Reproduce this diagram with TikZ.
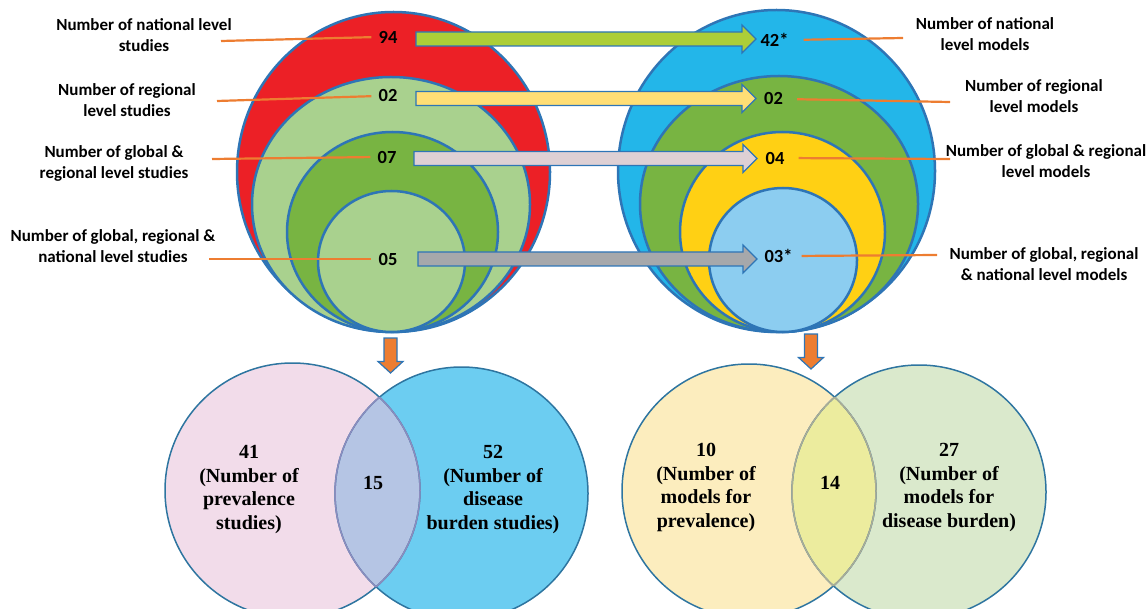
\documentclass[tikz,border=0pt]{standalone}
\usepackage{fontspec}
\setmainfont{Carlito}
\newfontfamily\tnr{Liberation Serif}
\usetikzlibrary{calc}
\definecolor{bord}{RGB}{46,117,182}
\definecolor{orng}{RGB}{237,125,49}
\definecolor{cred}{RGB}{236,32,38}
\definecolor{lgrn}{RGB}{169,209,142}
\definecolor{dgrn}{RGB}{120,180,66}
\definecolor{cblu}{RGB}{35,182,233}
\definecolor{cyel}{RGB}{255,208,20}
\definecolor{lblu}{RGB}{140,205,240}
\definecolor{aone}{RGB}{172,206,56}
\definecolor{atwo}{RGB}{255,222,117}
\definecolor{athr}{RGB}{222,208,212}
\definecolor{afou}{RGB}{166,168,171}
\definecolor{vbord}{RGB}{46,117,160}
\definecolor{vpink}{RGB}{242,220,234}
\definecolor{vblue}{RGB}{108,205,241}
\definecolor{vlap}{RGB}{181,197,228}
\definecolor{vyel}{RGB}{252,237,190}
\definecolor{vgrn}{RGB}{218,233,204}
\definecolor{vlapb}{RGB}{236,236,158}
\definecolor{vinA}{RGB}{140,140,190}
\definecolor{vinB}{RGB}{170,172,150}
\newcommand\hblock[3]{\draw[barrow,fill=#1] ($(#2)+(0,-7)$) -- ($(#3)+(-14,-7)$) -- ($(#3)+(-14,-14)$) -- (#3) -- ($(#3)+(-14,14)$) -- ($(#3)+(-14,7)$) -- ($(#2)+(0,7)$) -- cycle;}
\newcommand\vblock[2]{\draw[barrow,fill=orng] ($(#1)+(-6.5,0)$) -- ($(#2)+(-6.5,-11.5)$) -- ($(#2)+(-12.5,-11.5)$) -- (#2) -- ($(#2)+(12.5,-11.5)$) -- ($(#2)+(6.5,-11.5)$) -- ($(#1)+(6.5,0)$) -- cycle;}
\begin{document}
\begin{tikzpicture}[x=1pt,y=-1pt,
  ring/.style={draw=bord, line width=2.5pt},
  lead/.style={draw=orng, line width=2.2pt},
  lbl/.style={font=\fontsize{17}{21}\selectfont\bfseries, align=center, inner sep=0pt},
  num/.style={font=\fontsize{18.5}{20}\selectfont\bfseries, inner sep=1pt},
  venn/.style={draw=vbord, line width=1.5pt},
  vtxt/.style={font=\tnr\fontsize{20}{23.5}\selectfont\bfseries, align=center, inner sep=0pt},
  barrow/.style={draw=bord, line width=1.2pt, line join=miter},
]
\useasboundingbox (0,0) rectangle (1147,609);

% ---------- left nested circles ----------
\draw[ring, fill=cred] (393.5,172) ellipse [x radius=156.5, y radius=160];
\draw[ring, fill=lgrn] (391,204.5) ellipse [x radius=139, y radius=127.5];
\draw[ring, fill=dgrn] (392.5,232) ellipse [x radius=105.5, y radius=100];
\draw[ring, fill=lgrn] (391.5,261.5) ellipse [x radius=73.5, y radius=70.5];

% ---------- right nested circles ----------
\draw[ring, fill=cblu] (776.5,171) ellipse [x radius=158.5, y radius=161];
\draw[ring, fill=dgrn] (779,204) ellipse [x radius=139, y radius=128];
\draw[ring, fill=cyel] (782.5,232) ellipse [x radius=102.5, y radius=100];
\draw[ring, fill=lblu] (783,260) ellipse [x radius=74, y radius=72];

% ---------- block arrows ----------
\coordinate (A1s) at (416,39);  \coordinate (A1e) at (756,39);
\coordinate (A2s) at (416,98.5); \coordinate (A2e) at (756,98.5);
\coordinate (A3s) at (414,158.5); \coordinate (A3e) at (757,158.5);
\coordinate (A4s) at (418,259); \coordinate (A4e) at (757,259);
\hblock{aone}{A1s}{A1e}
\hblock{atwo}{A2s}{A2e}
\hblock{athr}{A3s}{A3e}
\hblock{afou}{A4s}{A4e}

% ---------- numbers ----------
\node[num] (l94) at (388,37) {94};
\node[num] (l02) at (388,96) {02};
\node[num] (l07) at (387,157) {07};
\node[num] (l05) at (388,259) {05};
\node[num] (r42) at (774.5,40) {42*};
\node[num] (r02) at (773.5,99) {02};
\node[num] (r04) at (775,158) {04};
\node[num] (r03) at (778.5,256) {03*};

% ---------- labels ----------
\node[lbl] (t1) at (144,35.5) {Number of national level\\studies};
\node[lbl] (t2) at (127,100) {Number of regional\\level studies};
\node[lbl] (t3) at (114,163) {Number of global \&\\regional level studies};
\node[lbl] (t4) at (113,246.5) {Number of global, regional \&\\national level studies};
\node[lbl] (u1) at (985,34.5) {Number of national\\level models};
\node[lbl] (u2) at (1034,96) {Number of regional\\level models};
\node[lbl] (u3) at (1046,161) {Number of global \& regional\\level models};
\node[lbl] (u4) at (1044,264.5) {Number of global, regional\\\& national level models};

% ---------- leader lines ----------
\coordinate (s1) at (221,41);  \coordinate (s2) at (217,101);
\coordinate (s3) at (212,159); \coordinate (s4) at (209,259);
\draw[lead, shorten >=6pt] (s1) -- (l94.west);
\draw[lead, shorten >=6pt] (s2) -- (l02.west);
\draw[lead, shorten >=6pt] (s3) -- (l07.west);
\draw[lead, shorten >=6pt] (s4) -- (l05.west);
\coordinate (e1) at (903,38);  \coordinate (e2) at (950,102);
\coordinate (e3) at (950,159); \coordinate (e4) at (937,255);
\draw[lead, shorten <=14pt] (r42.east) -- (e1);
\draw[lead, shorten <=13pt] (r02.east) -- (e2);
\draw[lead, shorten <=13pt] (r04.east) -- (e3);
\draw[lead, shorten <=8pt] (r03.east) -- (e4);

% ---------- down arrows ----------
\coordinate (d1s) at (390.5,338); \coordinate (d1e) at (390.5,373);
\coordinate (d2s) at (811,334);   \coordinate (d2e) at (811,369);
\vblock{d1s}{d1e}
\vblock{d2s}{d2e}

% ---------- left Venn ----------
\fill[vpink] (292.5,490.5) circle [radius=127.5pt];
\fill[vblue] (461.5,493.5) circle [radius=126.5pt];
\begin{scope}
  \clip (292.5,490.5) circle [radius=127.5pt];
  \fill[vlap] (461.5,493.5) circle [radius=126.5pt];
\end{scope}
\draw[venn] (292.5,490.5) circle [radius=127.5pt];
\draw[venn] (461.5,493.5) circle [radius=126.5pt];
\begin{scope}
  \clip (461.5,493.5) circle [radius=126.5pt];
  \draw[venn, draw=vinA] (292.5,490.5) circle [radius=127.5pt];
\end{scope}
\begin{scope}
  \clip (292.5,490.5) circle [radius=127.5pt];
  \draw[venn, draw=vinA] (461.5,493.5) circle [radius=126.5pt];
\end{scope}

% ---------- right Venn ----------
\fill[vyel] (749,491) circle [radius=127pt];
\fill[vgrn] (919,492) circle [radius=127pt];
\begin{scope}
  \clip (749,491) circle [radius=127pt];
  \fill[vlapb] (919,492) circle [radius=127pt];
\end{scope}
\draw[venn] (749,491) circle [radius=127pt];
\draw[venn] (919,492) circle [radius=127pt];
\begin{scope}
  \clip (919,492) circle [radius=127pt];
  \draw[venn, draw=vinB] (749,491) circle [radius=127pt];
\end{scope}
\begin{scope}
  \clip (749,491) circle [radius=127pt];
  \draw[venn, draw=vinB] (919,492) circle [radius=127pt];
\end{scope}

% ---------- Venn texts ----------
\node[vtxt] (v41) at (249,489.5) {41\\(Number of\\prevalence\\studies)};
\node[vtxt] (v15) at (373,483) {15};
\node[vtxt] (v52) at (493,489.5) {52\\(Number of\\disease\\burden studies)};
\node[vtxt] (v10) at (706,487.5) {10\\(Number of\\models for\\prevalence)};
\node[vtxt] (v14) at (830,483) {14};
\node[vtxt] (v27) at (949,487.5) {27\\(Number of\\models for\\disease burden)};
\end{tikzpicture}
\end{document}
